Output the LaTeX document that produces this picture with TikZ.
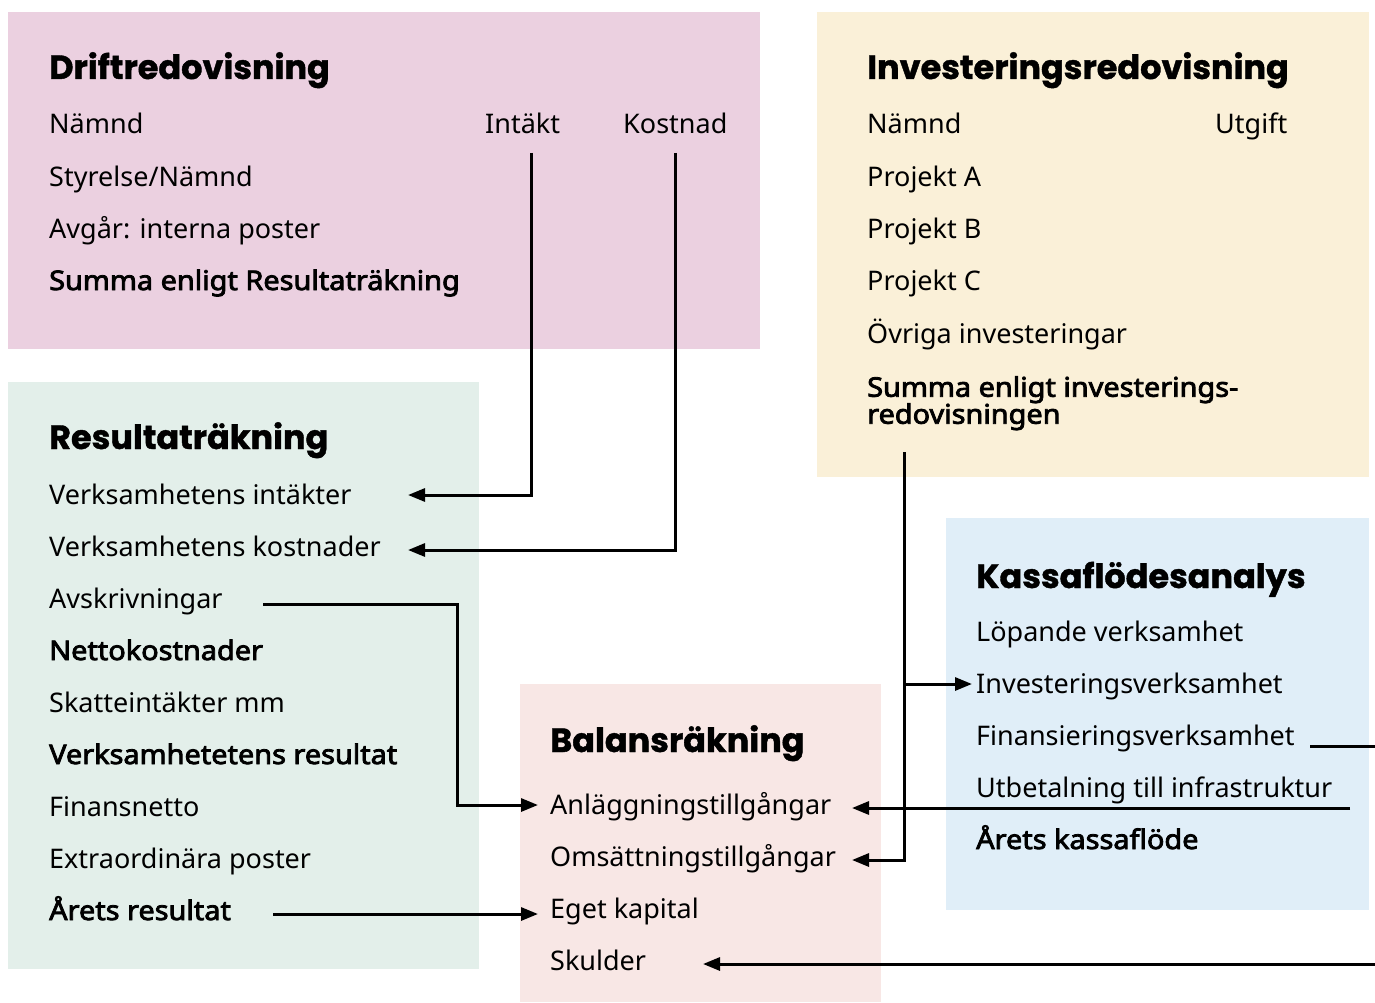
\documentclass[tikz,border=0pt]{standalone}
\usepackage{fontspec}
\setmainfont{Noto Sans}[BoldFont={Noto Sans}, BoldFeatures={FakeBold=3, FakeStretch=1.07}]
\newfontfamily\rubrikfont{Poppins}[BoldFeatures={FakeBold=1.2}]
\usetikzlibrary{positioning}
\usetikzlibrary{arrows.meta}

\definecolor{driftfarg}{HTML}{EBD0E0}
\definecolor{invfarg}{HTML}{FAF0D8}
\definecolor{resfarg}{HTML}{E3EFEA}
\definecolor{kassafarg}{HTML}{E0EEF8}
\definecolor{balfarg}{HTML}{F8E7E5}

\begin{document}
\begin{tikzpicture}[x=1pt, y=-1pt,
    txt/.style={anchor=base west, inner sep=0pt, font=\fontsize{27}{27}\selectfont},
    fet/.style={txt, font=\bfseries\fontsize{27}{27}\selectfont},
    rubrik/.style={anchor=base west, inner sep=0pt, font=\rubrikfont\bfseries\fontsize{33.5}{34}\selectfont},
    pil/.style={-{Triangle[length=17pt,width=13pt]}, line width=3pt},
    linje/.style={line width=3pt}]
    \useasboundingbox (0,0) rectangle (1375,1003);

    % Rutor
    \fill[driftfarg] (8,12) rectangle (760,349);
    \fill[invfarg] (817,12) rectangle (1369,477);
    \fill[resfarg] (8,382) rectangle (479,969);
    \fill[kassafarg] (946,518) rectangle (1369,910);
    \fill[balfarg] (520,684) rectangle (881,1002);

    % Driftredovisning
    \node[rubrik] (drift) at (49,79) {Driftredovisning};
    \node[txt] (dnamnd) at (49,134) {Nämnd};
    \node[txt] (intakt) at (485,134) {Intäkt};
    \node[txt] (kostnad) at (623,134) {Kostnad};
    \node[txt] (styrelse) at (49,186) {Styrelse/Nämnd};
    \node[txt] (avgar) at (49,238) {Avgår: interna poster};
    \node[fet] (dsumma) at (49,290) {Summa enligt Resultaträkning};

    % Investeringsredovisning
    \node[rubrik] (inv) at (867,79) {Investeringsredovisning};
    \node[txt] (inamnd) at (867,134) {Nämnd};
    \node[txt] (utgift) at (1215,134) {Utgift};
    \node[txt] (proja) at (867,186) {Projekt A};
    \node[txt] (projb) at (867,238) {Projekt B};
    \node[txt] (projc) at (867,290) {Projekt C};
    \node[txt] (ovriga) at (867,343) {Övriga investeringar};
    \node[fet, anchor=north west, align=left] (isumma) at (867,376)
        {Summa enligt investerings-\\redovisningen};

    % Resultaträkning
    \node[rubrik] (res) at (49,449) {Resultaträkning};
    \node[txt] (vint) at (49,504) {Verksamhetens intäkter};
    \node[txt] (vkost) at (49,556) {Verksamhetens kostnader};
    \node[txt] (avskr) at (49,608) {Avskrivningar};
    \node[fet] (netto) at (49,660) {Nettokostnader};
    \node[txt] (skatt) at (49,712) {Skatteintäkter mm};
    \node[fet] (vres) at (49,764) {Verksamhetetens resultat};
    \node[txt] (finans) at (49,816) {Finansnetto};
    \node[txt] (extra) at (49,868) {Extraordinära poster};
    \node[fet] (aresultat) at (49,920) {Årets resultat};

    % Balansräkning
    \node[rubrik] (bal) at (550,752) {Balansräkning};
    \node[txt] (anl) at (550,814) {Anläggningstillgångar};
    \node[txt] (oms) at (550,866) {Omsättningstillgångar};
    \node[txt] (eget) at (550,918) {Eget kapital};
    \node[txt] (skulder) at (550,970) {Skulder};

    % Kassaflödesanalys
    \node[rubrik] (kassa) at (976,588) {Kassaflödesanalys};
    \node[txt] (lop) at (976,641) {Löpande verksamhet};
    \node[txt] (invv) at (976,693) {Investeringsverksamhet};
    \node[txt] (finv) at (976,745) {Finansieringsverksamhet};
    \node[txt] (utbet) at (976,797) {Utbetalning till infrastruktur};
    \node[fet] (akassa) at (976,849) {Årets kassaflöde};

    % Punkter
    \coordinate (intakt-ut) at (531,153);
    \coordinate (kostnad-ut) at (675,153);
    \coordinate (vint-in) at (408,495);
    \coordinate (vkost-in) at (408,550);
    \coordinate (avskr-ut) at (263,604);
    \coordinate (avskr-knack) at (457,604);
    \coordinate (anl-in) at (538,805);
    \coordinate (ares-ut) at (273,914);
    \coordinate (eget-in) at (538,914);
    \coordinate (isumma-ut) at (904,452);
    \coordinate (gren) at (904,684);
    \coordinate (invv-in) at (972,684);
    \coordinate (oms-in) at (852,860);
    \coordinate (utbet-ut) at (1350,808);
    \coordinate (anl-in2) at (852,808);
    \coordinate (finv-ut) at (1310,746);
    \coordinate (finv-kant) at (1375,746);
    \coordinate (skuld-kant) at (1375,964);
    \coordinate (skuld-in) at (703,964);

    % Pilar
    \draw[pil] (intakt-ut) |- (vint-in);
    \draw[pil] (kostnad-ut) |- (vkost-in);
    \draw[pil] (avskr-ut) -- (avskr-knack) |- (anl-in);
    \draw[pil] (ares-ut) -- (eget-in);
    \draw[pil] (isumma-ut) |- (oms-in);
    \draw[pil] (gren) -- (invv-in);
    \draw[pil] (utbet-ut) -- (anl-in2);
    \draw[linje] (finv-ut) -- (finv-kant);
    \draw[pil] (skuld-kant) -- (skuld-in);
\end{tikzpicture}
\end{document}
